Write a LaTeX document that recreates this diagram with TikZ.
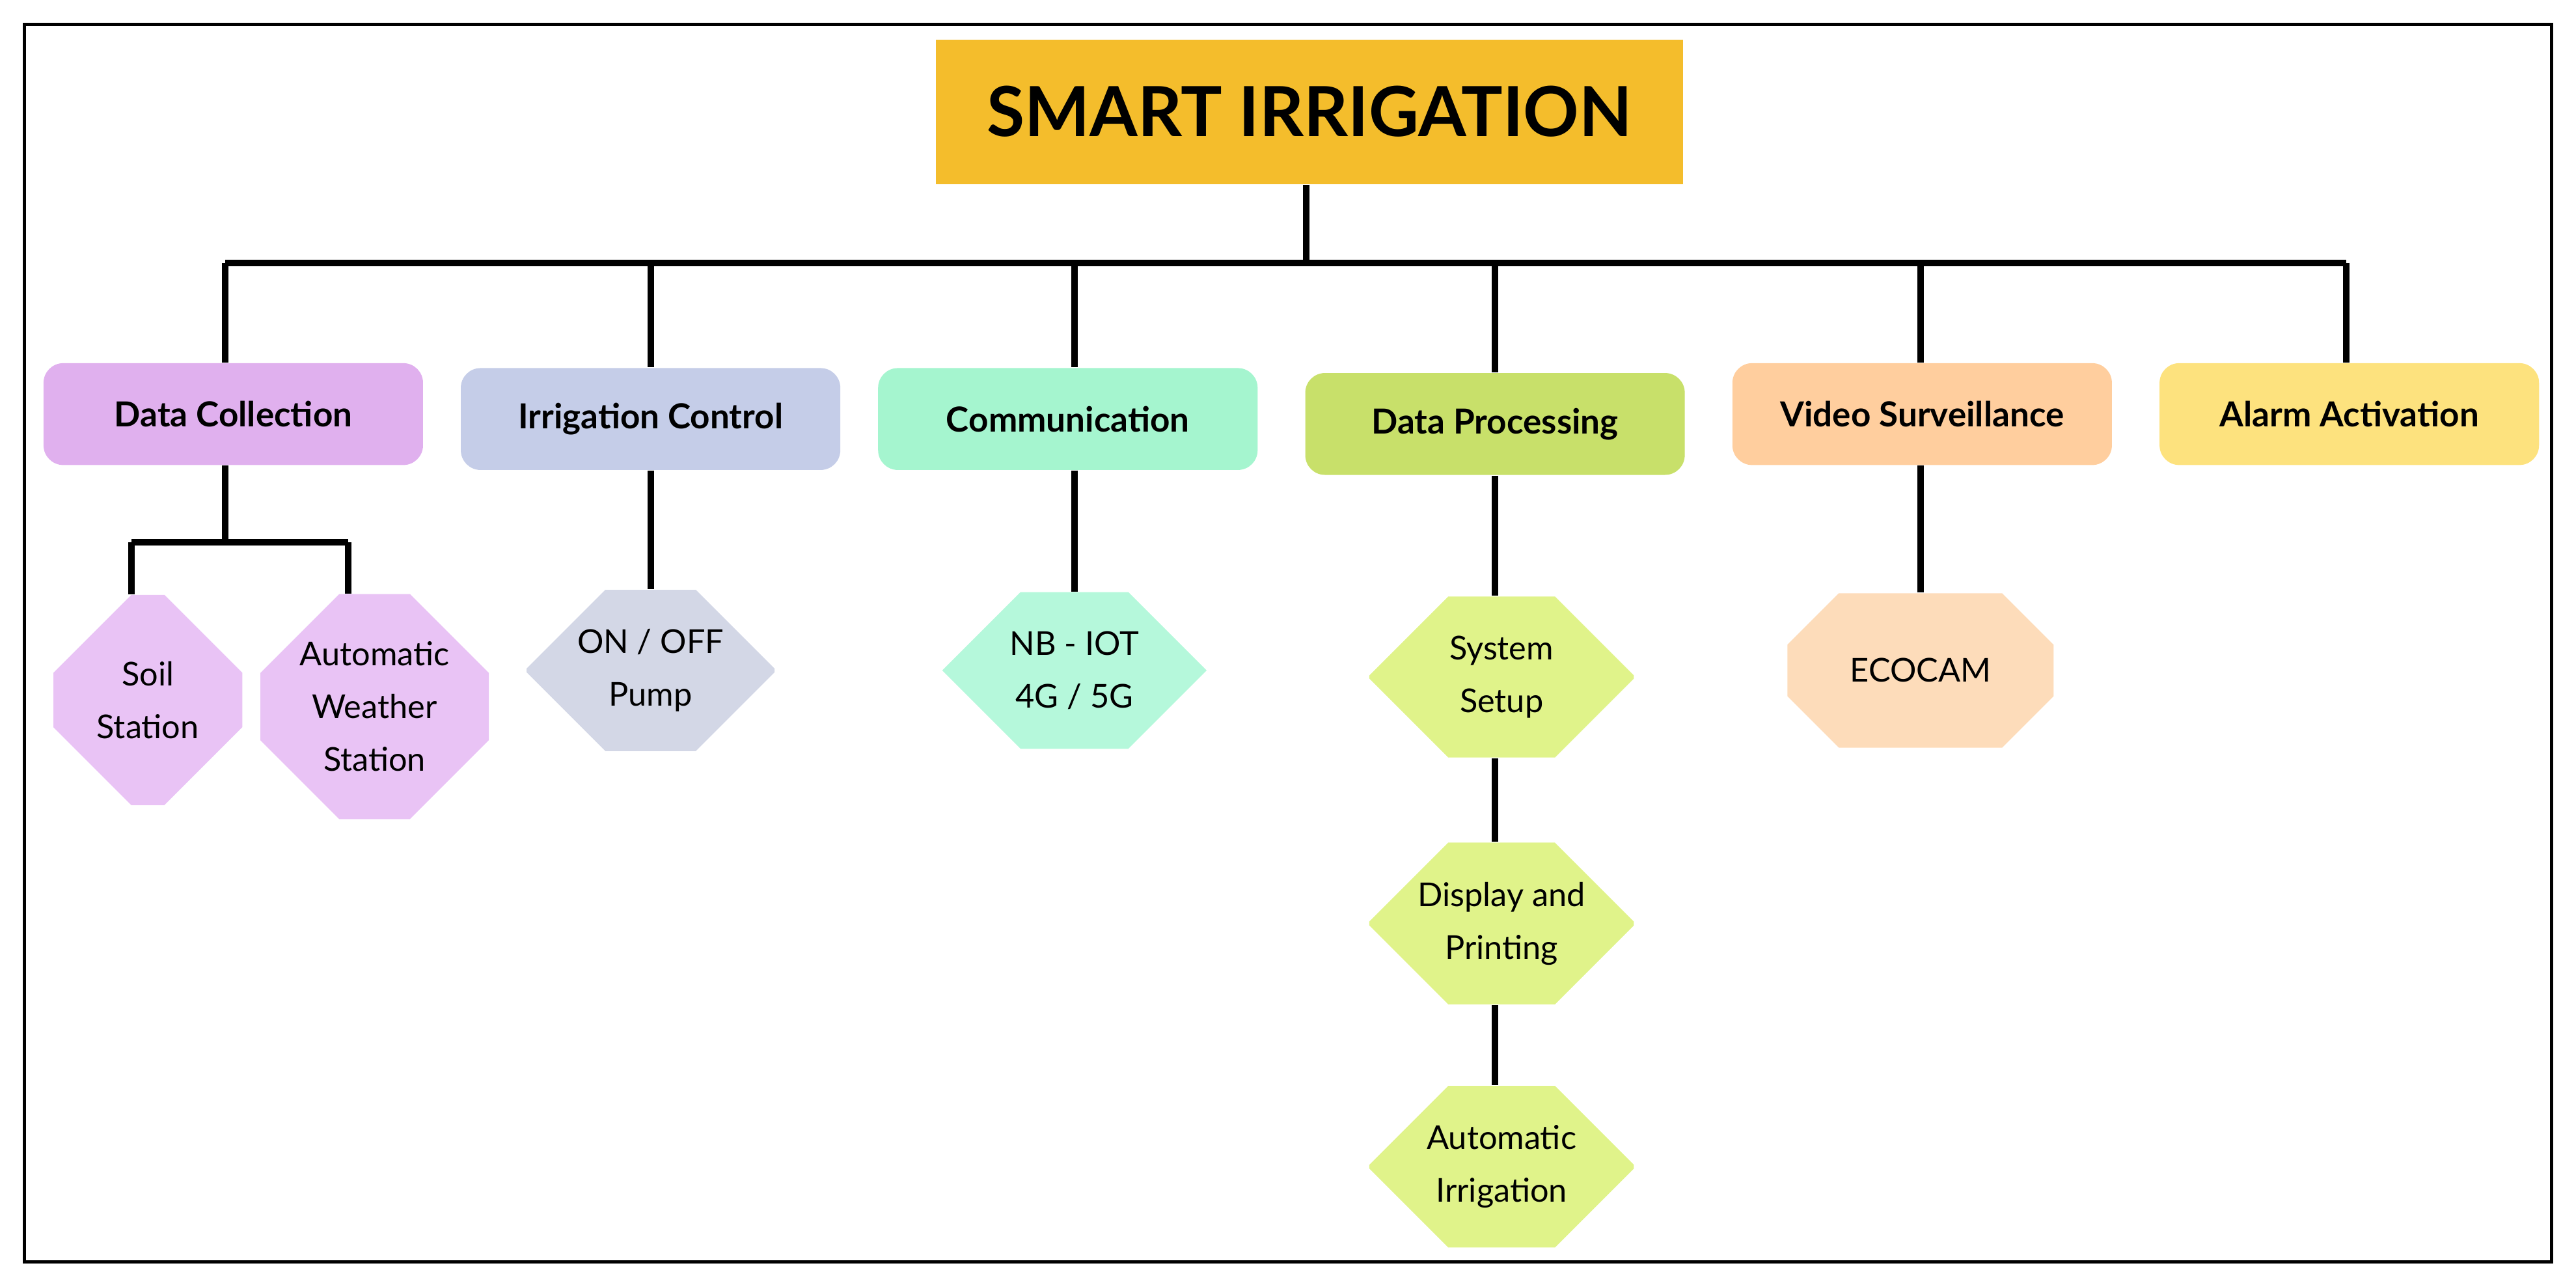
\documentclass[tikz,border=0pt]{standalone}
\usepackage{fontspec}
\setmainfont{Lato}
\usetikzlibrary{shapes.misc}
\definecolor{cTitle}{HTML}{F4BD2C}
\definecolor{cDC}{HTML}{E0B0EE}\definecolor{cDCl}{HTML}{E9C3F5}
\definecolor{cIC}{HTML}{C5CDE8}\definecolor{cICl}{HTML}{D3D7E6}
\definecolor{cCO}{HTML}{A5F5CF}\definecolor{cCOl}{HTML}{B5F8DB}
\definecolor{cDP}{HTML}{C8E06A}\definecolor{cDPl}{HTML}{E0F38A}
\definecolor{cVS}{HTML}{FFCE9E}\definecolor{cVSl}{HTML}{FDDCBA}
\definecolor{cAA}{HTML}{FDE27E}
\begin{document}
\begin{tikzpicture}[x=0.5pt,y=-0.5pt,
 head/.style={rounded corners=6pt,minimum width=115.5pt,minimum height=31pt,inner sep=0pt,font=\bfseries\fontsize{10.5}{12}\selectfont},
 oct/.style={chamfered rectangle,chamfered rectangle xsep=12pt,chamfered rectangle ysep=12pt,inner sep=0pt,align=center,font=\fontsize{10}{16}\selectfont},
 ln/.style={line width=2pt}]
\useasboundingbox (0,0) rectangle (1568,782);
\draw[line width=1pt] (15,15) rectangle (1553,768);
\node[fill=cTitle,minimum width=227.5pt,minimum height=44pt,font=\bfseries\fontsize{21}{24}\selectfont] (t) at (797,68) {SMART IRRIGATION};
\node[head,fill=cDC] (dc) at (142,252) {Data Collection};
\node[head,fill=cIC] (ic) at (396,255) {Irrigation Control};
\node[head,fill=cCO] (co) at (650,255) {Communication};
\node[head,fill=cDP] (dp) at (910,258) {Data Processing};
\node[head,fill=cVS] (vs) at (1170,252) {Video Surveillance};
\node[head,fill=cAA] (aa) at (1430,252) {Alarm Activation};
\node[oct,fill=cDCl,minimum width=57.5pt,minimum height=64pt] (ss) at (90,426) {Soil\\Station};
\node[oct,fill=cDCl,minimum width=63pt,minimum height=68.5pt] (aw) at (228,430) {Automatic\\Weather\\Station};
\node[oct,fill=cICl,minimum width=75.5pt,minimum height=47.5pt] (pp) at (396,408) {ON / OFF\\Pump};
\node[oct,fill=cCOl,minimum width=80.5pt,minimum height=47.5pt] (nb) at (654,408) {NB - IOT\\4G / 5G};
\node[oct,fill=cDPl,minimum width=80.5pt,minimum height=44pt] (s1) at (914,412) {System\\Setup};
\node[oct,fill=cDPl,minimum width=80.5pt,minimum height=44.5pt] (s2) at (914,562) {Display and\\Printing};
\node[oct,fill=cDPl,minimum width=80.5pt,minimum height=45pt] (s3) at (914,710) {Automatic\\Irrigation};
\node[oct,fill=cVSl,minimum width=81pt,minimum height=47pt] (ec) at (1169,408) {ECOCAM};
\coordinate (b0) at (137,160);
\coordinate (b1) at (396,160);
\coordinate (b2) at (654,160);
\coordinate (b3) at (910,160);
\coordinate (b4) at (1169,160);
\coordinate (b5) at (1428,160);
\coordinate (bus) at (795,160);
\coordinate (dcb) at (137,330);
\coordinate (l1) at (80,330);
\coordinate (l2) at (212,330);
\draw[ln] (t.south -| bus) -- (bus);
\draw[ln] (b0) -- (b5);
\draw[ln] (b0) -- (b0 |- dc.north);
\draw[ln] (b1) -- (b1 |- ic.north);
\draw[ln] (b2) -- (b2 |- co.north);
\draw[ln] (b3) -- (b3 |- dp.north);
\draw[ln] (b4) -- (b4 |- vs.north);
\draw[ln] (b5) -- (b5 |- aa.north);
\draw[ln] (dcb |- dc.south) -- (dcb);
\draw[ln] (l1) -- (l2);
\draw[ln] (l1) -- (l1 |- ss.north);
\draw[ln] (l2) -- (l2 |- aw.north);
\draw[ln] (b1 |- ic.south) -- (b1 |- pp.north);
\draw[ln] (b2 |- co.south) -- (b2 |- nb.north);
\draw[ln] (b3 |- dp.south) -- (b3 |- s1.north);
\draw[ln] (b3 |- s1.south) -- (b3 |- s2.north);
\draw[ln] (b3 |- s2.south) -- (b3 |- s3.north);
\draw[ln] (b4 |- vs.south) -- (b4 |- ec.north);
\end{tikzpicture}
\end{document}
